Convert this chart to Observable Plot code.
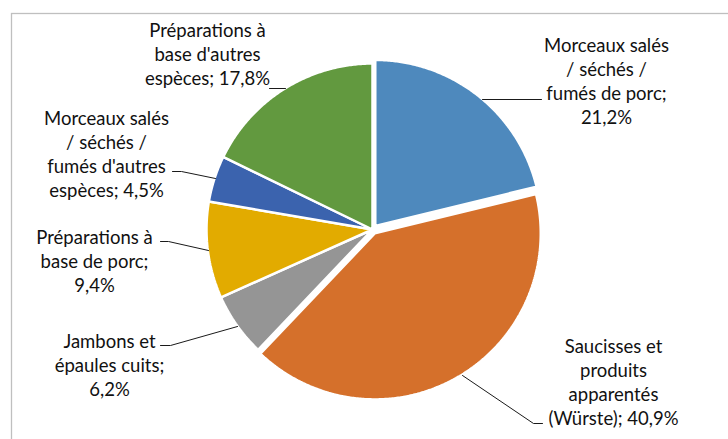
<!DOCTYPE html>
<html><head><meta charset="utf-8">
<script src="https://cdn.jsdelivr.net/npm/d3@7"></script>
<script src="https://cdn.jsdelivr.net/npm/@observablehq/plot@0.6"></script>
<style>
html,body{margin:0;padding:0;background:#fff;overflow:hidden}
</style>
</head><body><div id="chart"></div>
<script>
// ---- data ----
const categories = [
  "Morceaux salés / séchés / fumés de porc",
  "Saucisses et produits apparentés (Würste)",
  "Jambons et épaules cuits",
  "Préparations à base de porc",
  "Morceaux salés / séchés / fumés d'autres espèces",
  "Préparations à base d'autres espèces"
];
const shares = [21.2, 40.9, 6.2, 9.4, 4.5, 17.8];
const labelTexts = [
  "Morceaux salés\n/ séchés /\nfumés de porc;\n21,2%",
  "Saucisses et\nproduits\napparentés\n(Würste); 40,9%",
  "Jambons et\népaules cuits;\n6,2%",
  "Préparations à\nbase de porc;\n9,4%",
  "Morceaux salés\n/ séchés /\nfumés d'autres\nespèces; 4,5%",
  "Préparations à\nbase d'autres\nespèces; 17,8%"
];
const sliceColors = ["#4E89BD", "#D5702B", "#959595", "#E2AB00", "#3B63AE", "#62993F"];

// ---- layout ----
const W = 728, H = 439;
const cx = 372, cy = 229, R = 166;
const explode = [4.5, 4.5, 0, 0, 0, 0];
const labelPos = [[606, 80], [613, 381], [109, 364], [94, 260], [106, 153], [207, 53]];
const leaderPaths = [
  [[482, 99], [541, 99]],
  [[462, 375], [533, 423], [542, 423]],
  [[237, 326], [170, 345], [160, 345]],
  [[208, 250], [168, 241], [160, 241]],
  [[215, 178], [181, 171], [172, 171]],
  [[285, 88], [269, 88]]
];

// ---- build slices ----
const arcs = d3.pie().sort(null).value(d => d)(shares);
const slicePts = [];
arcs.forEach((a, i) => {
  const mid = (a.startAngle + a.endAngle) / 2;
  const ox = cx + explode[i] * Math.sin(mid);
  const oy = cy - explode[i] * Math.cos(mid);
  slicePts.push({cat: categories[i], x: ox, y: oy});
  const n = Math.max(2, Math.ceil((a.endAngle - a.startAngle) / (Math.PI / 360)));
  for (let k = 0; k <= n; k++) {
    const t = a.startAngle + (a.endAngle - a.startAngle) * k / n;
    slicePts.push({cat: categories[i], x: ox + R * Math.sin(t), y: oy - R * Math.cos(t)});
  }
});

const labelData = categories.map((c, i) => ({cat: c, text: labelTexts[i], x: labelPos[i][0], y: labelPos[i][1]}));
const leaderData = leaderPaths.flatMap((p, i) => p.map(([x, y]) => ({id: i, x, y})));

const chart = Plot.plot({
  width: W, height: H, margin: 0,
  style: {overflow: "hidden", background: "#fff"},
  x: {domain: [0, W], range: [0, W], axis: null},
  y: {domain: [0, H], range: [0, H], axis: null},
  color: {domain: categories, range: sliceColors},
  marks: [
    Plot.frame({insetLeft: 11, insetTop: 13, insetRight: -10, insetBottom: -10, stroke: "#BFBFBF", strokeWidth: 1.3}),
    Plot.line(slicePts, {x: "x", y: "y", z: "cat", fill: "cat", stroke: "#fff", strokeWidth: 2.5, strokeLinejoin: "miter", curve: "linear-closed"}),
    Plot.line(leaderData, {x: "x", y: "y", z: "id", stroke: "#1a1a1a", strokeWidth: 1}),
    Plot.text(labelData, {x: "x", y: "y", text: "text", fontSize: 18.5, lineHeight: 1.3, fill: "#111", fontFamily: "Lato", textAnchor: "middle"})
  ]
});
document.getElementById("chart").appendChild(chart);
</script>
</body></html>
